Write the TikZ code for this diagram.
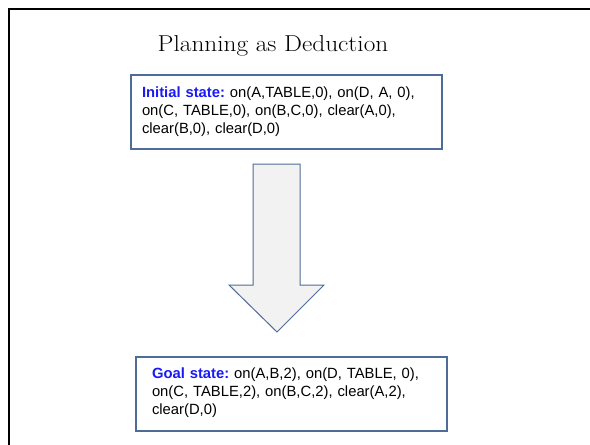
\documentclass[tikz,border=0pt]{standalone}
\usepackage{fontspec}
\newfontfamily\arialfont{Liberation Sans}
\usepackage{tikz}
\usetikzlibrary{positioning}
\definecolor{boxline}{HTML}{4F6C98}
\definecolor{arrowfill}{HTML}{F2F2F2}
\definecolor{keyblue}{HTML}{1A1AF5}
\frenchspacing

\begin{document}
\begin{tikzpicture}[x=1pt,y=1pt,semithick]
      \tikzstyle{statebox}=[draw=boxline,line width=1.4pt,fill=white,
                            minimum width=311pt,minimum height=74pt,
                            align=left,inner ysep=0pt,
                            font=\arialfont\fontsize{14.8}{18}\selectfont]
      \tikzstyle{blockarrow}=[draw=boxline,line width=1pt,fill=arrowfill,line join=miter]

      \useasboundingbox (0,0) rectangle (590,-445);
      \fill[white] (0,0) rectangle (590,-445);
      \draw[black,line width=2.6pt] (9,-9) rectangle (600,-460);

      \node[anchor=base,font=\fontsize{23}{28}\selectfont] (title) at (273,-51)
            {\scalebox{1.1}[1]{Planning as Deduction}};

      \node[statebox,inner xsep=11pt,text width=289pt] (init) at (286.5,-112)
            {\textcolor{keyblue}{\bfseries Initial state:} on(A,TABLE,0), on(D, A, 0),\\
             on(C, TABLE,0), on(B,C,0), clear(A,0),\\
             clear(B,0), clear(D,0)};
      \node[statebox,inner xsep=16pt,text width=279pt] (goal) at (291.5,-394)
            {\textcolor{keyblue}{\bfseries Goal state:} on(A,B,2), on(D, TABLE, 0),\\
             on(C, TABLE,2), on(B,C,2), clear(A,2),\\
             clear(D,0)\strut};

      % block arrow between the two states
      \draw[blockarrow] (253,-164) -- (300,-164) -- (300,-285) -- (324,-285)
                        -- (277,-332) -- (229,-285) -- (253,-285) -- cycle;
\end{tikzpicture}
\end{document}
